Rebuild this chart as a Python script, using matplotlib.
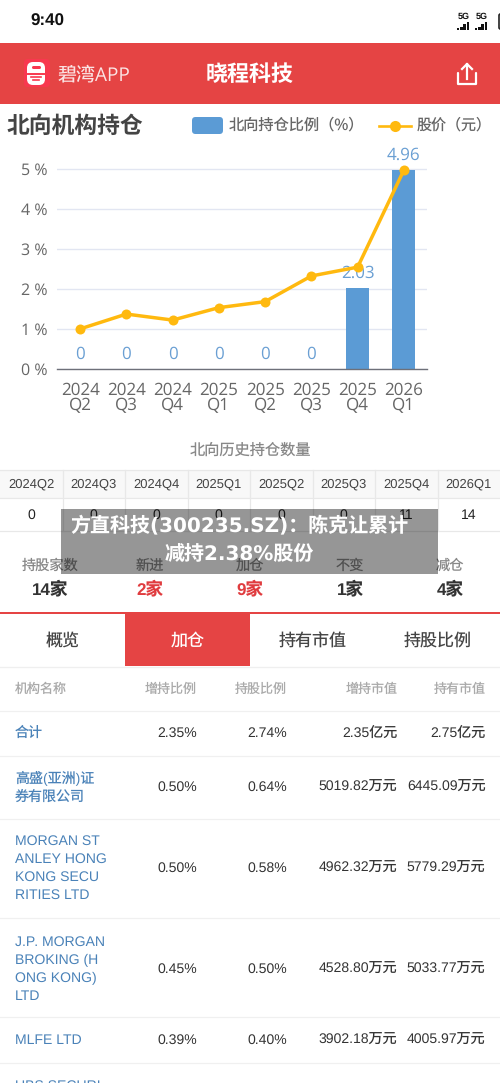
import matplotlib
matplotlib.use("Agg")
import matplotlib.pyplot as plt
from matplotlib.patches import Rectangle, FancyBboxPatch
from matplotlib.transforms import ScaledTranslation

plt.rcParams["text.hinting"] = "no_hinting"
plt.rcParams["text.hinting_factor"] = 1

quarters = ["2024Q2","2024Q3","2024Q4","2025Q1","2025Q2","2025Q3","2025Q4","2026Q1"]
ratio = [0,0,0,0,0,0,2.03,4.96]
price = [1.00,1.37,1.22,1.53,1.68,2.32,2.54,4.96]
counts = ["0","0","0","0","0","0","11","14"]
stat_labels = ["持股家数","新进","加仓","不变","减仓"]
stat_values = ["14家","2家","9家","1家","4家"]
stat_colors = ["#333333","#e03c3f","#e03c3f","#333333","#333333"]
tabs = ["概览","加仓","持有市值","持股比例"]
headers = ["机构名称","增持比例","持股比例","增持市值","持有市值"]
names = ["合计","高盛(亚洲)证\n券有限公司","MORGAN ST\nANLEY HONG\nKONG SECU\nRITIES LTD","J.P. MORGAN\nBROKING (H\nONG KONG)\nLTD","MLFE LTD"]
add_ratio = ["2.35%","0.50%","0.50%","0.45%","0.39%"]
hold_ratio = ["2.74%","0.64%","0.58%","0.50%","0.40%"]
add_value = ["2.35亿元","5019.82万元","4962.32万元","4528.80万元","3902.18万元"]
hold_value = ["2.75亿元","6445.09万元","5779.29万元","5033.77万元","4005.97万元"]

CJK = ["Noto Sans CJK SC","DejaVu Sans"]
YH = ["Open Sans","Noto Sans CJK SC"]
AR = ["Liberation Sans","Noto Sans CJK SC"]
RED = "#e54444"; BLUE = "#5b9bd5"; GOLD = "#ffb90f"; LINK = "#4a82b8"
W, H = 500, 1083
fig = plt.figure(figsize=(W/100, H/100), dpi=100, facecolor="white")
bg = fig.add_axes([0,0,1,1]); bg.set_xlim(0,W); bg.set_ylim(H,0); bg.axis("off")
def px(s): return s*0.72
def T(x,y,s,size,color="#333333",ha="center",va="center",fam=CJK,weight="normal",ax=bg,**k):
    return ax.text(x,y,s,fontsize=px(size),color=color,ha=ha,va=va,family=fam,fontweight=weight,**k)

# status bar
T(30,21.5,"9:40",17,"#111111",ha="left",fam=AR,weight="bold")
for x0 in (457,475):
    T(x0+6.5,17,"5G",9,"#111111",fam=AR,weight="bold")
    for i,h in enumerate((2,3.5,6,8.5)):
        bg.add_patch(Rectangle((x0+i*3.2,30-h),2.3,h,color="#111111",lw=0))
bg.add_patch(FancyBboxPatch((499,14),6,15,boxstyle="round,pad=0,rounding_size=1.5",fc="none",ec="#222222",lw=1.2))

# header
bg.add_patch(Rectangle((0,43),W,61,color=RED,lw=0))
bg.add_patch(FancyBboxPatch((24,59),26,28,boxstyle="round,pad=0,rounding_size=4",fc="#f8384f",ec="none"))
bg.add_patch(FancyBboxPatch((27,62),18,23,boxstyle="round,pad=0,rounding_size=6",fc="white",ec="none"))
bg.add_patch(FancyBboxPatch((32,66),9,3,boxstyle="round,pad=0,rounding_size=1.5",fc="#f8384f",ec="none"))
bg.plot([28,44],[73.5,73.5],color="#f8384f",lw=1.4)
bg.plot([31,41],[76.5,76.5],color="#f8384f",lw=1.2)
bg.plot([33,39],[80,80],color="#f8384f",lw=1.2)
T(58,75,"碧湾APP",19,"#fbe3e3",ha="left",fam=YH)
T(250,75,"晓程科技",22,"white",weight="bold")
bg.plot([458,458,476,476],[73,84,84,73],color="white",lw=1.6,solid_capstyle="round")
bg.plot([467,467],[79,64],color="white",lw=1.6)
bg.plot([462,467,472],[69,64,69],color="white",lw=1.6)

# chart heading / legend
T(7,126,"北向机构持仓",22.8,"#444444",ha="left",weight="bold")
bg.add_patch(FancyBboxPatch((192,117),31,17,boxstyle="round,pad=0,rounding_size=3.5",fc=BLUE,ec="none"))
T(229,125,"北向持仓比例（%）",15.2,"#666666",ha="left")
bg.plot([379,411],[126,126],color=GOLD,lw=1.9)
bg.plot([395],[126],"o",color=GOLD,ms=8,mew=0)
T(417,125,"股价（元）",15,"#666666",ha="left")

# chart
ax = fig.add_axes([57/W, 1-369/H, 370/W, (369-127.9)/H], facecolor="none")
xs = list(range(len(quarters)))
ax.set_xlim(-0.5,7.5); ax.set_ylim(0,(369-127.9)/40.1)
ax.set_yticks(range(6))
ax.set_yticklabels([f"{i} %" for i in range(6)],fontsize=px(16),color="#666666",family=YH)
up = ScaledTranslation(0,2/100,fig.dpi_scale_trans)
for lab in ax.get_yticklabels():
    lab.set_transform(lab.get_transform()+up)
ax.set_xticks(xs)
ax.set_xticklabels([q[:4]+"\n"+q[4:] for q in quarters],fontsize=px(16.5),color="#666666",family=YH,linespacing=0.88)
ax.tick_params(axis="x",length=0,pad=9.5)
ax.tick_params(axis="y",length=0,pad=7)
ax.grid(axis="y",color="#e2e6f2",lw=1); ax.set_axisbelow(True)
for s in ("top","right","left"): ax.spines[s].set_visible(False)
ax.spines["bottom"].set_color("#6e7079"); ax.spines["bottom"].set_linewidth(1)
ax.bar(xs,ratio,width=0.5,color=BLUE,zorder=2)
for x,v in zip(xs,ratio):
    ax.annotate(f"{v:g}",(x,v),xytext=(0,4.2),textcoords="offset points",ha="center",va="bottom",
                fontsize=px(16.5),color="#6a9fd3",family=YH,zorder=3)
ax.plot(xs,price,color=GOLD,lw=2.5,marker="o",ms=7.2,mew=0,zorder=4,clip_on=False)

# history table
T(250,450,"北向历史持仓数量",15.2,"#888888")
colw = W/8
bg.add_patch(Rectangle((0,470),W,28,color="#f8f8f8",lw=0))
for y in (470,498,531):
    bg.plot([0,W],[y,y],color="#e8e8e8",lw=0.9)
for i,(q,c) in enumerate(zip(quarters,counts)):
    if i: bg.plot([i*colw]*2,[470,531],color="#e8e8e8",lw=0.9)
    T((i+.5)*colw,484,q,13,"#444444",fam=AR)
    T((i+.5)*colw,515,c,13.5,"#222222",fam=AR)

# stats
for i,(l,v,c) in enumerate(zip(stat_labels,stat_values,stat_colors)):
    x = 50+i*100
    T(x,566,l,14.2,"#888888")
    T(x,590,v,17.5,c,weight="bold",fam=AR)

# tabs
bg.add_patch(Rectangle((0,612),W,2.2,color=RED,lw=0))
bg.add_patch(Rectangle((125,614),125,52,color=RED,lw=0))
bg.plot([0,W],[667,667],color="#efefef",lw=0.9)
for i,t in enumerate(tabs):
    T(62.5+i*125,641,t,17,"white" if i==1 else "#444444")

# holdings table
T(15,689,headers[0],13,"#aaaaaa",ha="left")
cols = [197,287,397.5,485.5]
for x,h in zip(cols,headers[1:]):
    T(x,689,h,13,"#aaaaaa",ha="right")
for y in (711,756,819,918,1017,1063):
    bg.plot([0,W],[y,y],color="#f0f0f0",lw=0.9)
rows = [733.5,787.5,868.5,969,1040]
for y,n,a,b,c,d in zip(rows,names,add_ratio,hold_ratio,add_value,hold_value):
    T(15,y,n,14,LINK,ha="left",fam=AR,linespacing=1.49)
    for x,s in zip(cols,(a,b,c,d)):
        T(x,y,s,14,"#333333",ha="right",fam=AR)
T(15,1080,"UBS SECURI",14,LINK,ha="left",va="top",fam=AR)

# overlay banner
ov = fig.add_axes([0,0,1,1],facecolor="none"); ov.set_xlim(0,W); ov.set_ylim(H,0); ov.axis("off")
ov.add_patch(Rectangle((61,509),377,65,color="black",alpha=0.41,lw=0))
OF = ["DejaVu Sans","Noto Sans CJK SC"]
T(239.5,526,"方直科技(300235.SZ)：陈克让累计",20,"white",fam=OF,weight="bold",ax=ov)
T(239.5,554,"减持2.38%股份",20,"white",fam=OF,weight="bold",ax=ov)

fig.savefig("out.png",dpi=100)
